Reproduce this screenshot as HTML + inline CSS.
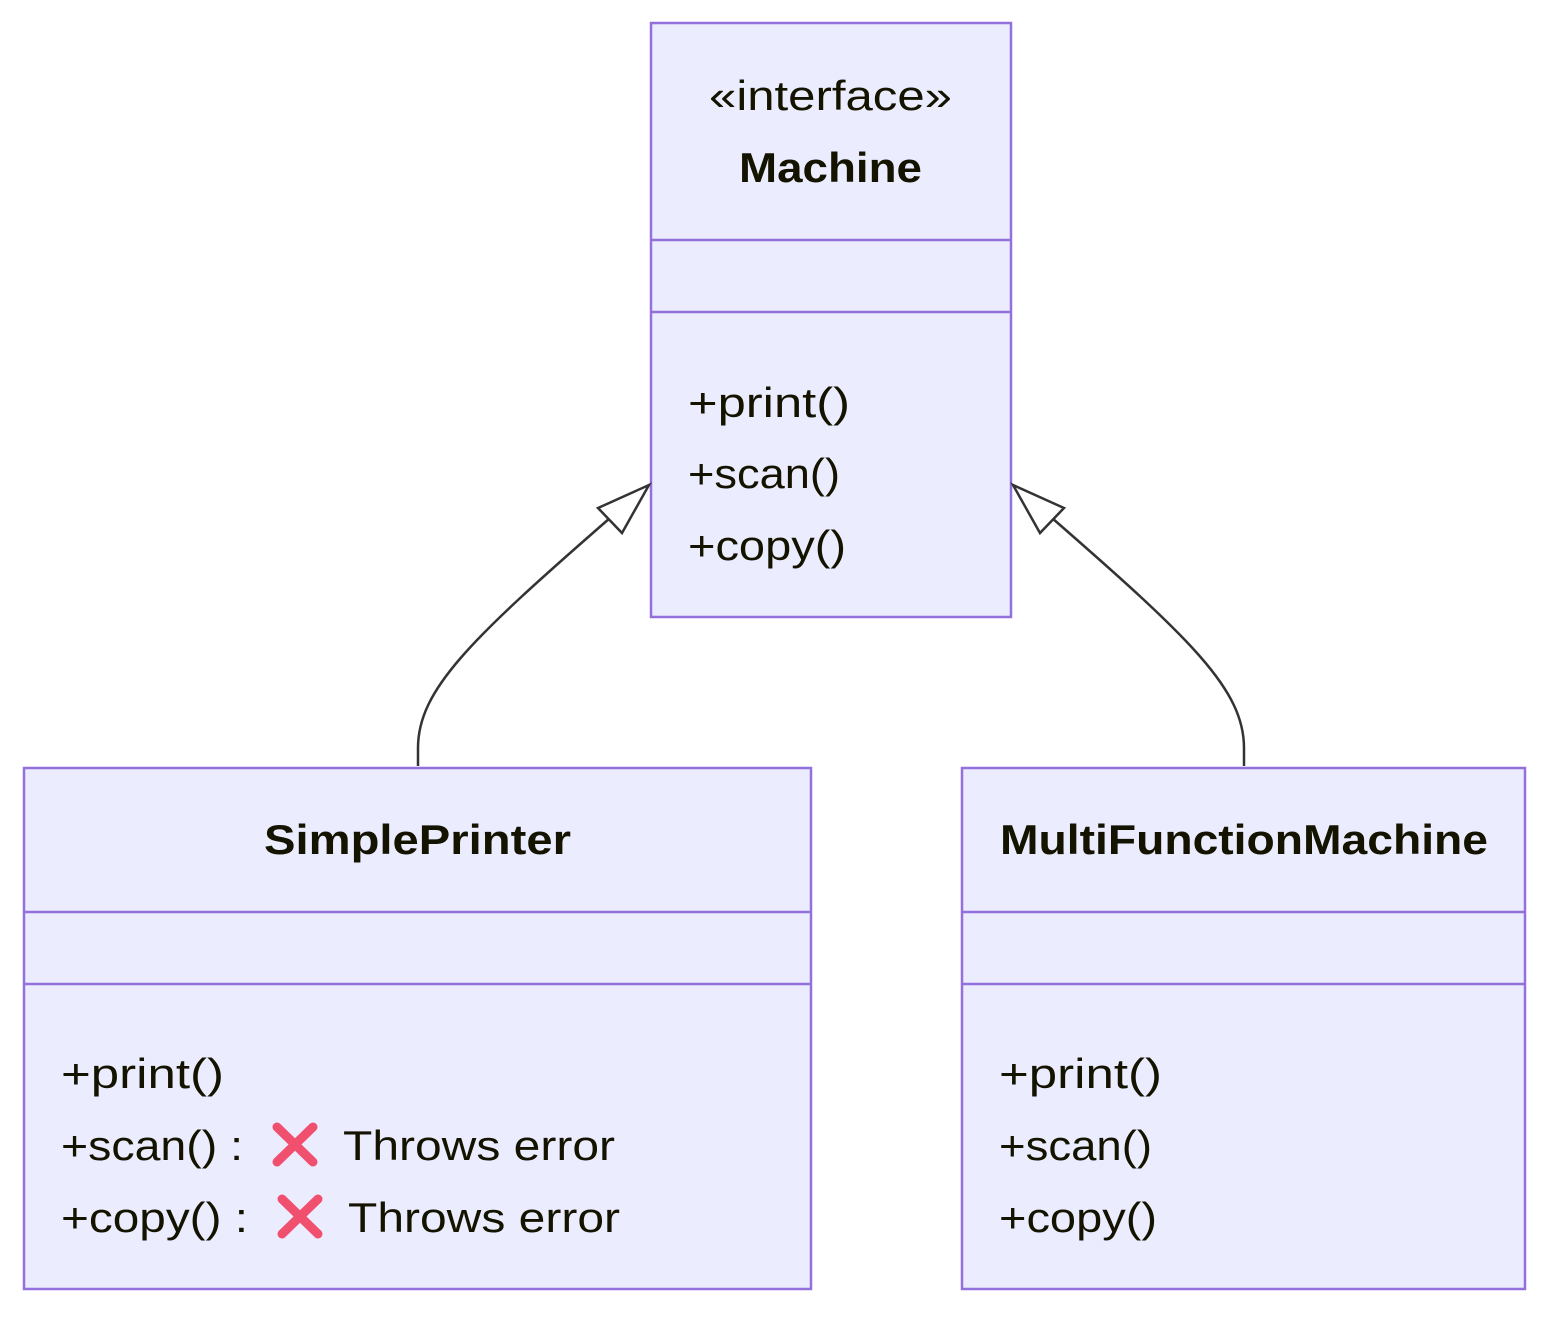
<!DOCTYPE html>
<html><head><meta charset="utf-8"><style>
html,body{margin:0;padding:0;background:#fff;}
svg text{font-family:"Liberation Sans",sans-serif;fill:#131300;font-size:42px;}
.b{font-weight:bold;}
</style></head><body>
<svg width="1550" height="1314" viewBox="0 0 1550 1314" xmlns="http://www.w3.org/2000/svg">
<g fill="#ECECFF" stroke="#9370DB" stroke-width="2.5">
<rect x="651" y="23" width="360" height="594"/>
<line x1="651" y1="240" x2="1011" y2="240"/>
<line x1="651" y1="312" x2="1011" y2="312"/>
<rect x="24" y="768" width="787" height="521"/>
<line x1="24" y1="912" x2="811" y2="912"/>
<line x1="24" y1="984" x2="811" y2="984"/>
<rect x="962" y="768" width="563" height="521"/>
<line x1="962" y1="912" x2="1525" y2="912"/>
<line x1="962" y1="984" x2="1525" y2="984"/>
</g>
<g fill="none" stroke="#333" stroke-width="2.5">
<path d="M418,766 L418,748 C418,690 470,640 610,518"/>
<path d="M1244,766 L1244,748 C1244,690 1192,640 1052,518"/>
</g>
<g fill="#fff" stroke="#333" stroke-width="2.5">
<polygon points="649,485 598,508 622,533"/>
<polygon points="1013,485 1064,508 1040,533"/>
</g>
<text x="709" y="110" textLength="243" lengthAdjust="spacingAndGlyphs">«interface»</text>
<text class="b" x="739" y="182" textLength="183" lengthAdjust="spacingAndGlyphs">Machine</text>
<text x="688" y="417" textLength="162" lengthAdjust="spacingAndGlyphs">+print()</text>
<text x="688" y="488" textLength="152" lengthAdjust="spacingAndGlyphs">+scan()</text>
<text x="688" y="560" textLength="158" lengthAdjust="spacingAndGlyphs">+copy()</text>

<text class="b" x="264" y="854" textLength="307" lengthAdjust="spacingAndGlyphs">SimplePrinter</text>
<text x="61" y="1088" textLength="163" lengthAdjust="spacingAndGlyphs">+print()</text>
<text x="61" y="1160" textLength="182" lengthAdjust="spacingAndGlyphs">+scan() :</text>
<text x="343" y="1160" textLength="272" lengthAdjust="spacingAndGlyphs">Throws error</text>
<text x="61" y="1232" textLength="187" lengthAdjust="spacingAndGlyphs">+copy() :</text>
<text x="348" y="1232" textLength="272" lengthAdjust="spacingAndGlyphs">Throws error</text>
<g stroke="#F0506E" stroke-width="9" stroke-linecap="round">
<line x1="277" y1="1127" x2="313" y2="1162"/><line x1="313" y1="1127" x2="277" y2="1162"/>
<line x1="282" y1="1199" x2="318" y2="1234"/><line x1="318" y1="1199" x2="282" y2="1234"/>
</g>

<text class="b" x="1000" y="854" textLength="488" lengthAdjust="spacingAndGlyphs">MultiFunctionMachine</text>
<text x="999" y="1088" textLength="163" lengthAdjust="spacingAndGlyphs">+print()</text>
<text x="999" y="1160" textLength="153" lengthAdjust="spacingAndGlyphs">+scan()</text>
<text x="999" y="1232" textLength="158" lengthAdjust="spacingAndGlyphs">+copy()</text>
</svg>
</body></html>
